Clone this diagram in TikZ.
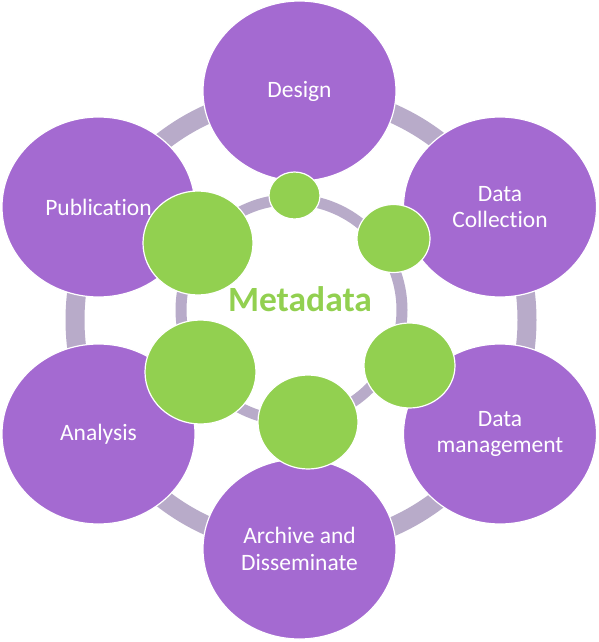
\documentclass[tikz,border=0pt]{standalone}
\usepackage{fontspec}
\setmainfont{Carlito}[Ligatures = NoCommon]
\usetikzlibrary{shapes.geometric}

\definecolor{stagepurple}{RGB}{164,106,209}
\definecolor{ringgray}{RGB}{184,171,201}
\definecolor{metagreen}{RGB}{146,208,80}

\begin{document}
\begin{tikzpicture}[x = 0.5pt, y = -0.5pt,
	stage/.style = {ellipse, draw = white, line width = 0.6pt, fill = stagepurple,
		minimum width = 96.5pt, minimum height = 90pt, inner sep = 0pt,
		text = white, align = center, font = \fontsize{11.75}{13.3}\selectfont},
	blob/.style = {ellipse, draw = white, line width = 0.6pt, fill = metagreen, inner sep = 0pt},
	ring/.style = {white, line width = 0.6pt, double = ringgray}]
	\useasboundingbox (0,0) rectangle (599,642);

	% outer ring behind the stages
	\draw[ring, double distance = 9.5pt] (301,320) circle [radius = 226];

	\node[stage] (design) at (299.5,91) {Design};
	\node[stage] (collection) at (500,207) {Data\\Collection};
	\node[stage] (management) at (500,434) {Data\\management};
	\node[stage] (archive) at (299.5,549) {Archive and\\Disseminate};
	\node[stage] (analysis) at (98.5,434) {Analysis};
	\node[stage] (publication) at (98.5,207) {Publication};

	% inner ring
	\draw[ring, double distance = 5.5pt] (291.5,310) circle [radius = 110.5];

	\node[blob, minimum width = 25.5pt, minimum height = 23.5pt] (g1) at (294.5,195.5) {};
	\node[blob, minimum width = 36.5pt, minimum height = 34pt] (g2) at (393.5,238.5) {};
	\node[blob, minimum width = 45.5pt, minimum height = 42.5pt] (g3) at (409.5,365.5) {};
	\node[blob, minimum width = 50pt, minimum height = 47pt] (g4) at (308,422) {};
	\node[blob, minimum width = 55.5pt, minimum height = 52pt] (g5) at (200.5,372) {};
	\node[blob, minimum width = 55pt, minimum height = 52pt] (g6) at (198,243) {};

	\node[text = metagreen, font = \fontsize{17.75}{20}\selectfont\bfseries] (meta) at (300,299) {Metadata};
\end{tikzpicture}
\end{document}
